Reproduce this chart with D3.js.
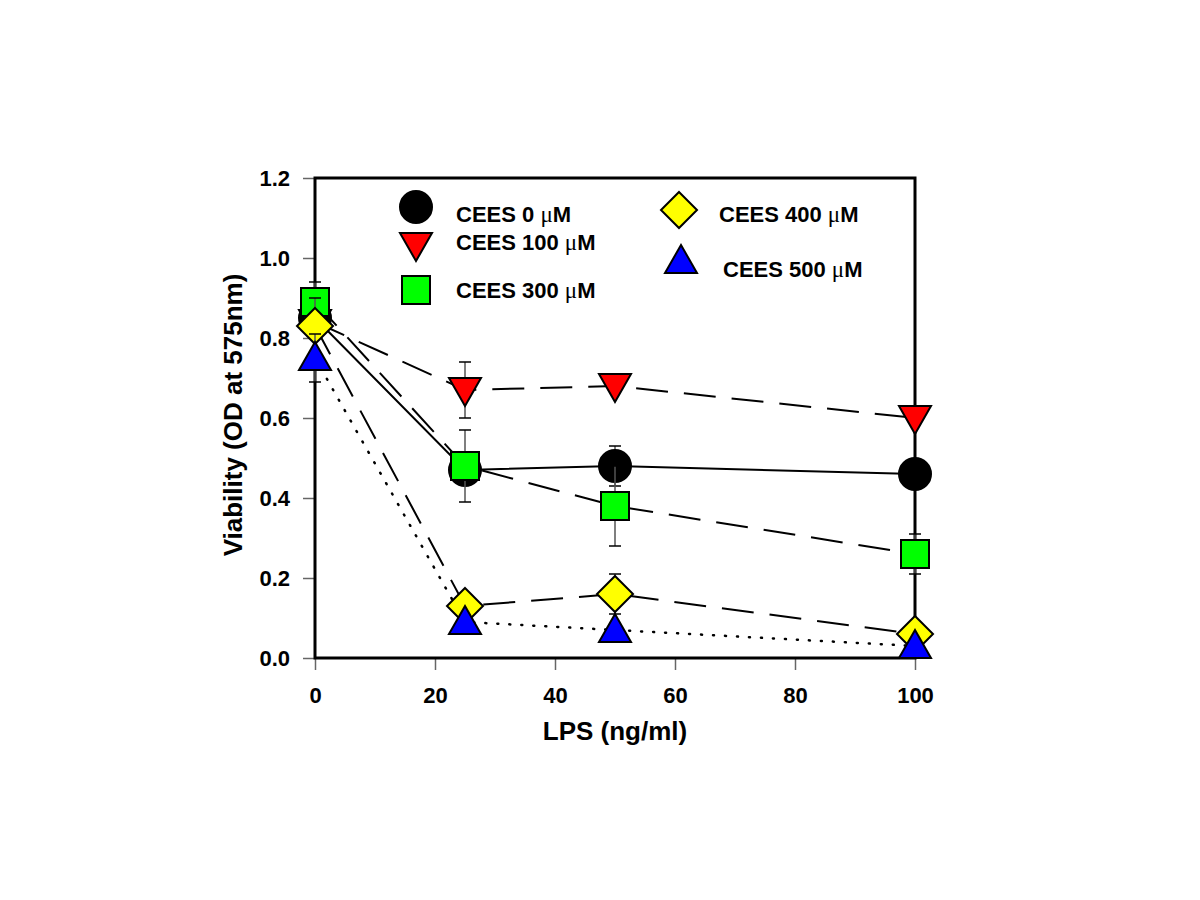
<!DOCTYPE html>
<html><head><meta charset="utf-8">
<script src="https://cdn.jsdelivr.net/npm/d3@7"></script>
<style>body{margin:0;background:#fff}svg{display:block}</style>
</head><body><svg id="c" width="1200" height="900"></svg>
<script>
const lps = [0, 25, 50, 100];
const seriesNames = ["CEES 0", "CEES 100", "CEES 300", "CEES 400", "CEES 500"];
const cees0 = [0.85, 0.47, 0.48, 0.46];
const cees0Err = [0.05, 0.00, 0.05, 0.00];
const cees100 = [0.84, 0.67, 0.68, 0.60];
const cees100Err = [0.00, 0.07, 0.00, 0.00];
const cees300 = [0.89, 0.48, 0.38, 0.26];
const cees300Err = [0.05, 0.09, 0.10, 0.05];
const cees400 = [0.83, 0.13, 0.16, 0.06];
const cees400Err = [0.07, 0.00, 0.05, 0.00];
const cees500 = [0.75, 0.09, 0.07, 0.03];
const cees500Err = [0.06, 0.00, 0.00, 0.00];
const xTicks = [0, 20, 40, 60, 80, 100];
const yTicks = [0.0, 0.2, 0.4, 0.6, 0.8, 1.0, 1.2];

const svg = d3.select("#c");
const L = 315, R = 915, T = 178, B = 658;
const x = d3.scaleLinear().domain([0, 100]).range([L, R]);
const y = d3.scaleLinear().domain([0, 1.2]).range([B, T]);
const font = "'Liberation Sans', Arial, sans-serif";

const series = [
  {name: seriesNames[0], v: cees0, e: cees0Err, sym: "circle", fill: "#000000", dash: null},
  {name: seriesNames[1], v: cees100, e: cees100Err, sym: "down", fill: "#ff0000", dash: "32,16"},
  {name: seriesNames[2], v: cees300, e: cees300Err, sym: "square", fill: "#00ff00", dash: "32,16"},
  {name: seriesNames[3], v: cees400, e: cees400Err, sym: "diamond", fill: "#ffff00", dash: "32,16"},
  {name: seriesNames[4], v: cees500, e: cees500Err, sym: "up", fill: "#0000ff", dash: "1,11"}
];

function symPath(s) {
  if (s === "circle") return d3.symbol(d3.symbolCircle, Math.PI * 16 * 16)();
  if (s === "square") return "M-14,-14H14V14H-14Z";
  if (s === "diamond") return "M0,-18L18,0L0,18L-18,0Z";
  if (s === "up") return "M0,-16L16,12L-16,12Z";
  if (s === "down") return "M0,16L16,-12L-16,-12Z";
}

// axes
const xAxis = d3.axisBottom(x).tickValues(xTicks).tickSize(12).tickFormat(d3.format("d"));
const yAxis = d3.axisLeft(y).tickValues(yTicks).tickSize(12).tickFormat(d3.format(".1f"));
const gx = svg.append("g").attr("transform", `translate(0,${B})`).call(xAxis);
const gy = svg.append("g").attr("transform", `translate(${L},0)`).call(yAxis);
[gx, gy].forEach(g => {
  g.select(".domain").remove();
  g.selectAll(".tick line").attr("stroke", "#666").attr("stroke-width", 1.5);
  g.selectAll(".tick text").attr("font-family", font).attr("font-weight", "bold")
    .attr("font-size", 22).attr("fill", "#000");
});
gx.selectAll(".tick text").attr("y", 45).attr("dy", 0);
gy.selectAll(".tick text").attr("x", -25);

// frame
svg.append("rect").attr("x", L).attr("y", T).attr("width", R - L).attr("height", B - T)
  .attr("fill", "none").attr("stroke", "#000").attr("stroke-width", 3);

// lines
const line = d3.line().x((d, i) => x(lps[i])).y(d => y(d));
series.forEach(s => {
  svg.append("path").attr("d", line(s.v)).attr("fill", "none").attr("stroke", "#000")
    .attr("stroke-dasharray", s.dash)
    .attr("stroke-linecap", s.sym === "up" ? "round" : "butt")
    .attr("stroke-width", s.sym === "up" ? 2.5 : 2);
});

// error bars + markers, per series
series.forEach(s => {
  s.v.forEach((v, i) => {
    if (!s.e[i]) return;
    const cx = x(lps[i]);
    const g = svg.append("g").attr("stroke", "#555").attr("stroke-width", 1.5);
    g.append("line").attr("x1", cx).attr("x2", cx).attr("y1", y(v - s.e[i])).attr("y2", y(v + s.e[i]));
    [v - s.e[i], v + s.e[i]].forEach(t => {
      g.append("line").attr("x1", cx - 6).attr("x2", cx + 6).attr("y1", y(t)).attr("y2", y(t)).attr("stroke", "#000");
    });
  });
  svg.append("g").selectAll("path").data(s.v).join("path")
    .attr("d", symPath(s.sym))
    .attr("transform", (d, i) => `translate(${x(lps[i])},${y(d)})`)
    .attr("fill", s.fill).attr("stroke", "#000").attr("stroke-width", 2);
});

// legend
const legendPos = [
  {mx: 416, my: 207, tx: 456, ty: 214.5},
  {mx: 416, my: 245, tx: 456, ty: 242.5},
  {mx: 416, my: 290, tx: 456, ty: 290.5},
  {mx: 679, my: 210, tx: 719, ty: 214},
  {mx: 681, my: 261, tx: 723, ty: 269.5}
];
series.forEach((s, i) => {
  const p = legendPos[i];
  svg.append("path").attr("d", symPath(s.sym)).attr("transform", `translate(${p.mx},${p.my})`)
    .attr("fill", s.fill).attr("stroke", "#000").attr("stroke-width", 2);
  const t = svg.append("text").attr("x", p.tx).attr("y", p.ty).attr("dy", "0.35em")
    .attr("font-family", font).attr("font-size", 22).attr("fill", "#000");
  t.append("tspan").attr("font-weight", "bold").text(s.name + " ");
  t.append("tspan").attr("font-family", "'Liberation Serif', serif").attr("font-size", 23).text("\u03BC");
  t.append("tspan").attr("font-weight", "bold").text("M");
});

// axis titles
svg.append("text").attr("x", x(50)).attr("y", 740).attr("text-anchor", "middle")
  .attr("font-family", font).attr("font-weight", "bold").attr("font-size", 26).text("LPS (ng/ml)");
svg.append("text").attr("transform", "translate(242,415) rotate(-90)").attr("text-anchor", "middle")
  .attr("font-family", font).attr("font-weight", "bold").attr("font-size", 26).text("Viability (OD at 575nm)");
</script></body></html>
